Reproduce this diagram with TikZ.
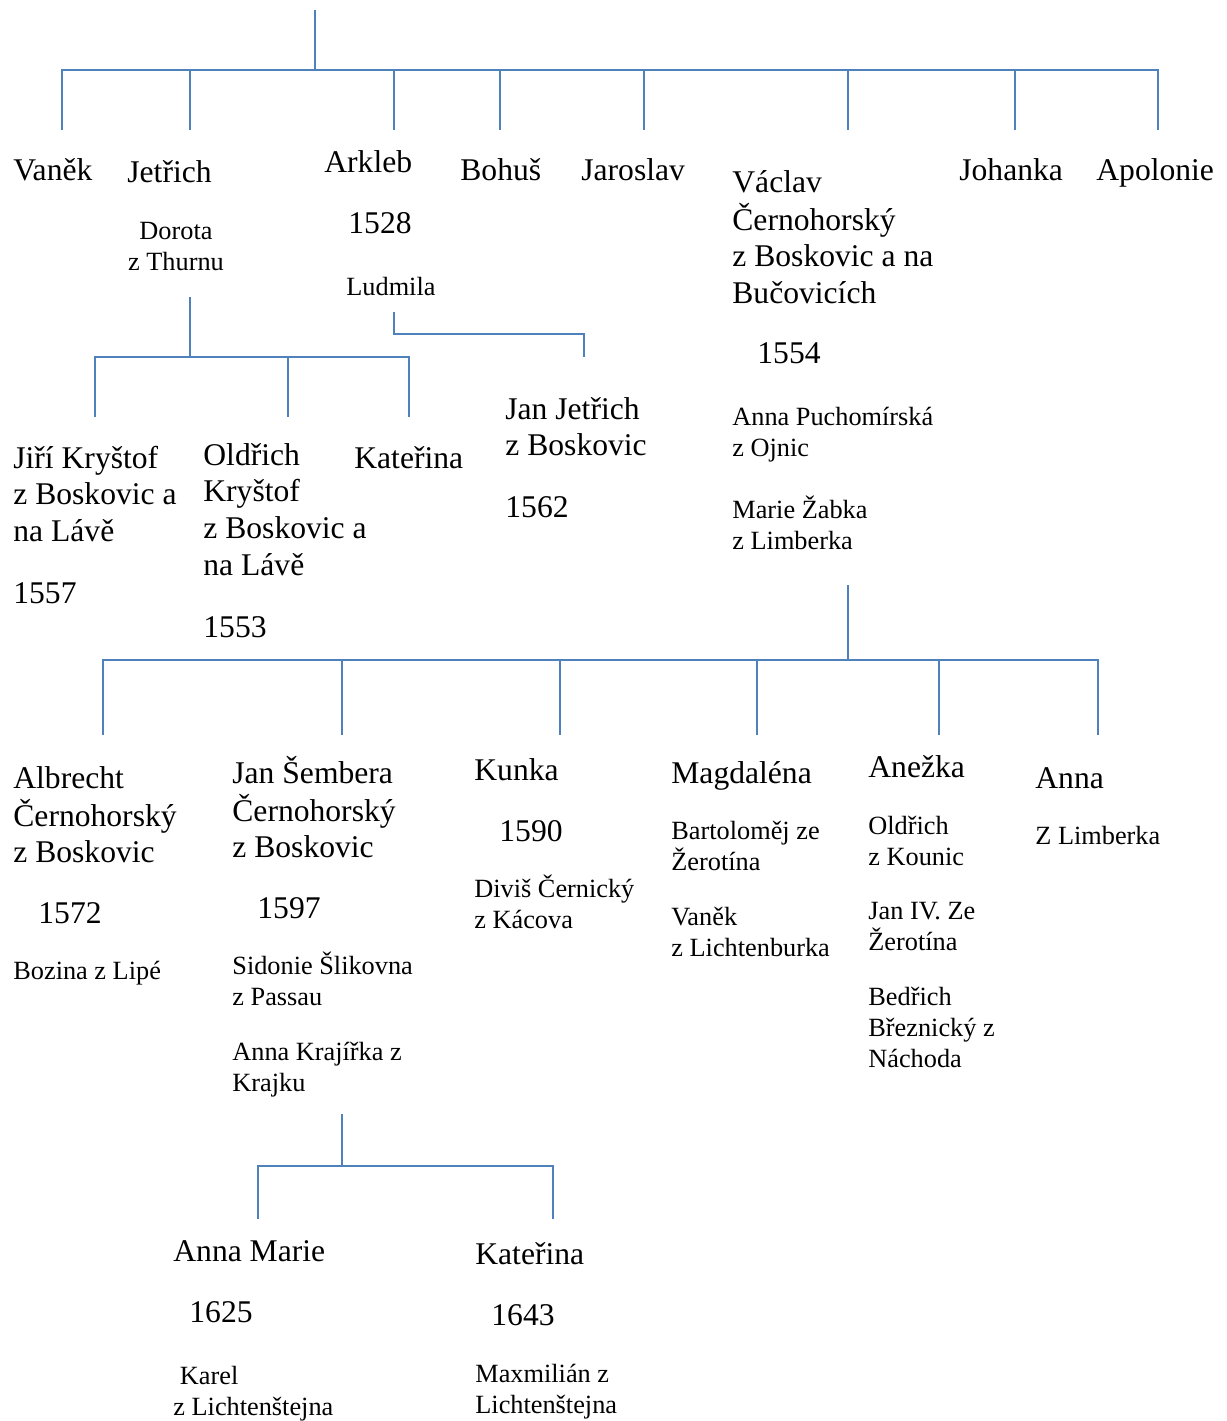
\documentclass[tikz,border=0pt]{standalone}
\usepackage{fontspec}
\setmainfont{Liberation Serif}
\usepackage{xcolor}

\definecolor{linkblue}{RGB}{79,129,189}
\newcommand{\lines}[1]{\begin{tabular}[t]{@{}l@{}}#1\end{tabular}}
\newcommand{\clines}[1]{\begin{tabular}[t]{@{}c@{}}#1\end{tabular}}

\tikzset{
	pname/.style={anchor=base west, inner sep=0pt, font=\fontsize{15.8}{18.4}\selectfont},
	pnote/.style={anchor=base west, inner sep=0pt, font=\fontsize{13.15}{15.5}\selectfont},
	link/.style={draw=linkblue, line width=1.2pt},
}

\begin{document}
\begin{tikzpicture}[x=0.5pt, y=-0.5pt]
	\useasboundingbox (0,0) rectangle (1227,1421);

	% first generation
	\coordinate (rootTop) at (315,10);
	\coordinate (rootBus) at (315,70);
	\coordinate (busW) at (62,70);
	\coordinate (busE) at (1158,70);
	\coordinate (dVanek) at (62,130);
	\coordinate (dJetrich) at (190,130);
	\coordinate (dArkleb) at (394,130);
	\coordinate (dBohus) at (500,130);
	\coordinate (dJaroslav) at (644,130);
	\coordinate (dVaclav) at (848,130);
	\coordinate (dJohanka) at (1015,130);
	\coordinate (dApolonie) at (1158,130);
	\draw[link] (rootTop) -- (rootBus);
	\draw[link] (dVanek) -- (busW) -- (busE) -- (dApolonie);
	\draw[link] (dJetrich |- busW) -- (dJetrich);
	\draw[link] (dArkleb |- busW) -- (dArkleb);
	\draw[link] (dBohus |- busW) -- (dBohus);
	\draw[link] (dJaroslav |- busW) -- (dJaroslav);
	\draw[link] (dVaclav |- busW) -- (dVaclav);
	\draw[link] (dJohanka |- busW) -- (dJohanka);

	\node[pname] (vanek) at (13,180) {Vaněk};
	\node[pname] (jetrich) at (127,182) {Jetřich};
	\node[pnote, anchor=base] (dorota) at (176,239) {\clines{Dorota\\z Thurnu}};
	\node[pname] (arkleb) at (324,172) {Arkleb};
	\node[pname] (arklebYear) at (348,233) {1528};
	\node[pnote] (ludmila) at (346,295) {Ludmila};
	\node[pname] (bohus) at (460,180) {Bohuš};
	\node[pname] (jaroslav) at (581,180) {Jaroslav};
	\node[pname] (vaclav) at (732,192) {\lines{Václav\\Černohorský\\z Boskovic a na\\Bučovicích}};
	\node[pname] (vaclavYear) at (757,363) {1554};
	\node[pnote] (puchomirska) at (732,425) {\lines{Anna Puchomírská\\z Ojnic}};
	\node[pnote] (zabka) at (732,518) {\lines{Marie Žabka\\z Limberka}};
	\node[pname] (johanka) at (959,180) {Johanka};
	\node[pname] (apolonie) at (1096,180) {Apolonie};

	% Jetrich's children
	\coordinate (jetTop) at (190,297);
	\coordinate (jetBus) at (190,357);
	\coordinate (dJiri) at (95,417);
	\coordinate (dOldrich) at (288,417);
	\coordinate (dKaterina) at (409,417);
	\draw[link] (jetTop) -- (jetBus);
	\draw[link] (dJiri) -- (dJiri |- jetBus) -- (dKaterina |- jetBus) -- (dKaterina);
	\draw[link] (dOldrich |- jetBus) -- (dOldrich);

	\node[pname] (jiri) at (13,468) {\lines{Jiří Kryštof\\z Boskovic a\\na Lávě}};
	\node[pname] (jiriYear) at (13,603) {1557};
	\node[pname] (oldrich) at (203,465) {\lines{Oldřich\\Kryštof\\z Boskovic a\\na Lávě}};
	\node[pname] (oldrichYear) at (203,637) {1553};
	\node[pname] (katerina) at (354,468) {Kateřina};

	% Arkleb's son
	\coordinate (arkTop) at (394,312);
	\coordinate (arkBend) at (394,334);
	\coordinate (dJanJetrich) at (584,357);
	\draw[link] (arkTop) -- (arkBend) -- (dJanJetrich |- arkBend) -- (dJanJetrich);

	\node[pname] (janJetrich) at (505,419) {\lines{Jan Jetřich\\z Boskovic}};
	\node[pname] (janJetrichYear) at (505,517) {1562};

	% Vaclav's children
	\coordinate (vacTop) at (848,585);
	\coordinate (vacBus) at (848,660);
	\coordinate (dAlbrecht) at (103,735);
	\coordinate (dSembera) at (342,735);
	\coordinate (dKunka) at (560,735);
	\coordinate (dMagdalena) at (757,735);
	\coordinate (dAnezka) at (939,735);
	\coordinate (dAnna) at (1098,735);
	\draw[link] (vacTop) -- (vacBus);
	\draw[link] (dAlbrecht) -- (dAlbrecht |- vacBus) -- (dAnna |- vacBus) -- (dAnna);
	\draw[link] (dSembera |- vacBus) -- (dSembera);
	\draw[link] (dKunka |- vacBus) -- (dKunka);
	\draw[link] (dMagdalena |- vacBus) -- (dMagdalena);
	\draw[link] (dAnezka |- vacBus) -- (dAnezka);

	\node[pname] (albrecht) at (13,788) {\lines{Albrecht\\Černohorský\\z Boskovic}};
	\node[pname] (albrechtYear) at (38,923) {1572};
	\node[pnote] (bozina) at (13,979) {Bozina z Lipé};
	\node[pname] (sembera) at (232,783) {\lines{Jan Šembera\\Černohorský\\z Boskovic}};
	\node[pname] (semberaYear) at (257,918) {1597};
	\node[pnote] (sidonie) at (232,974) {\lines{Sidonie Šlikovna\\z Passau}};
	\node[pnote] (krajirka) at (232,1060) {\lines{Anna Krajířka z\\Krajku}};
	\node[pname] (kunka) at (474,780) {Kunka};
	\node[pname] (kunkaYear) at (499,841) {1590};
	\node[pnote] (divis) at (474,897) {\lines{Diviš Černický\\z Kácova}};
	\node[pname] (magdalena) at (671,783) {Magdaléna};
	\node[pnote] (bartolomej) at (671,839) {\lines{Bartoloměj ze\\Žerotína}};
	\node[pnote] (vanekL) at (671,925) {\lines{Vaněk\\z Lichtenburka}};
	\node[pname] (anezka) at (868,777) {Anežka};
	\node[pnote] (kounic) at (868,834) {\lines{Oldřich\\z Kounic}};
	\node[pnote] (janIV) at (868,919) {\lines{Jan IV. Ze\\Žerotína}};
	\node[pnote] (bedrich) at (868,1005) {\lines{Bedřich\\Březnický z\\Náchoda}};
	\node[pname] (anna) at (1035,788) {Anna};
	\node[pnote] (limberka) at (1035,844) {Z Limberka};

	% Jan Sembera's children
	\coordinate (semTop) at (342,1114);
	\coordinate (semBus) at (342,1166);
	\coordinate (dAnnaMarie) at (258,1219);
	\coordinate (dKaterinaB) at (553,1219);
	\draw[link] (semTop) -- (semBus);
	\draw[link] (dAnnaMarie) -- (dAnnaMarie |- semBus) -- (dKaterinaB |- semBus) -- (dKaterinaB);

	\node[pname] (annaMarie) at (173,1261) {Anna Marie};
	\node[pname] (annaMarieYear) at (189,1322) {1625};
	\node[pnote] (karel) at (173,1384) {\lines{\ Karel\\z Lichtenštejna}};
	\node[pname] (katerinaB) at (475,1264) {Kateřina};
	\node[pname] (katerinaBYear) at (491,1325) {1643};
	\node[pnote] (maxmilian) at (475,1382) {\lines{Maxmilián z\\Lichtenštejna}};
\end{tikzpicture}
\end{document}
